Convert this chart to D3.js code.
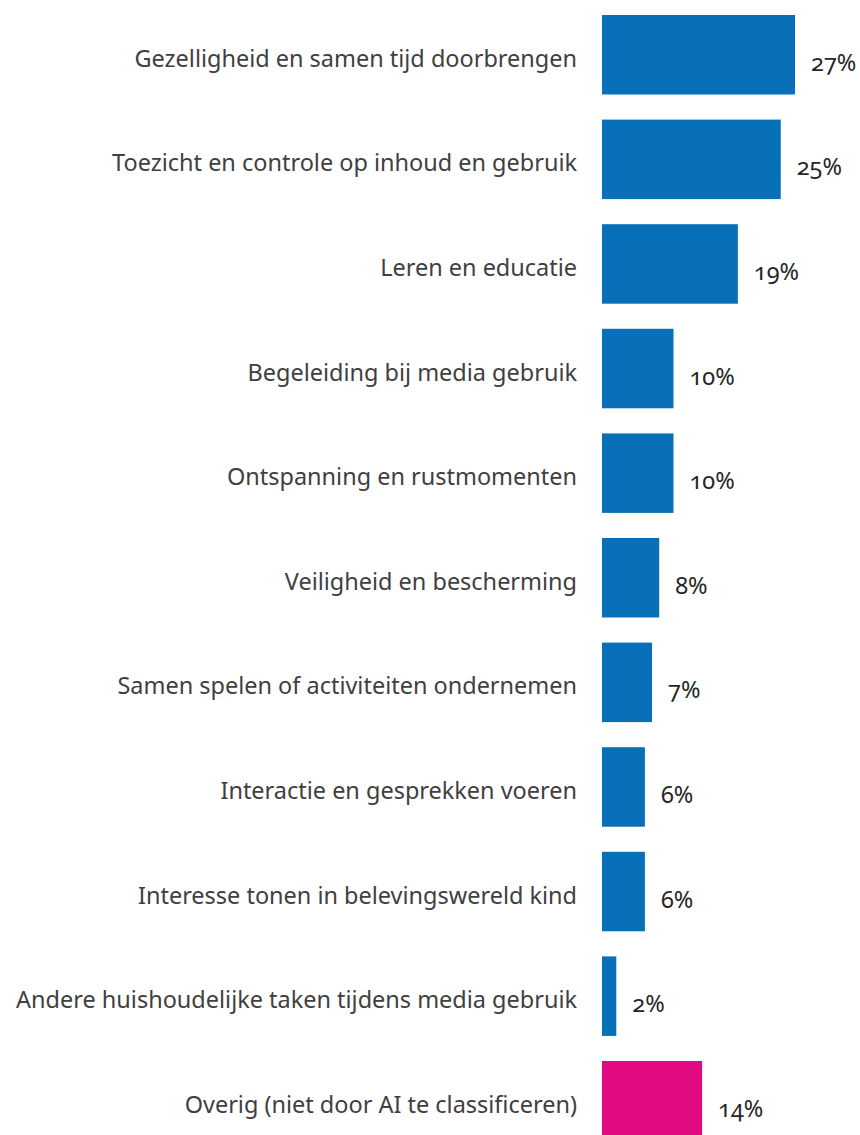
<!DOCTYPE html>
<html>
<head>
<meta charset="utf-8">
<script src="https://cdn.jsdelivr.net/npm/d3@7"></script>
<style>
  html, body { margin: 0; padding: 0; background: #ffffff; }
  svg { display: block; }
  .cat { font-family: "Noto Sans", "Open Sans", sans-serif; fill: #404040; }
  .val { font-family: "Noto Sans", "Open Sans", sans-serif; fill: #262626; font-variant-numeric: oldstyle-nums; font-feature-settings: "onum" 1; }
</style>
</head>
<body>
<svg id="chart" width="860" height="1135"></svg>
<script>
// Answers grouped by theme (share of respondents, %)
const categories = [
  "Gezelligheid en samen tijd doorbrengen",
  "Toezicht en controle op inhoud en gebruik",
  "Leren en educatie",
  "Begeleiding bij media gebruik",
  "Ontspanning en rustmomenten",
  "Veiligheid en bescherming",
  "Samen spelen of activiteiten ondernemen",
  "Interactie en gesprekken voeren",
  "Interesse tonen in belevingswereld kind",
  "Andere huishoudelijke taken tijdens media gebruik",
  "Overig (niet door AI te classificeren)"
];
const values = [27, 25, 19, 10, 10, 8, 7, 6, 6, 2, 14];
// The last row is the unclassified remainder and gets its own colour
const unclassified = ["Overig (niet door AI te classificeren)"];

const blue = "#0870b8";
const magenta = "#e20a80";

const svg = d3.select("#chart");
const width = 860, height = 1135;

const x = d3.scaleLinear().domain([0, 30]).range([602, 602 + 214.5]);
const y = d3.scaleBand()
  .domain(categories)
  .range([15, 1140.5])
  .paddingInner(0.24)
  .paddingOuter(0);

const rows = categories.map((c, i) => ({ cat: c, value: values[i] }));

svg.selectAll("rect.bar")
  .data(rows)
  .join("rect")
  .attr("class", "bar")
  .attr("x", x(0))
  .attr("y", d => y(d.cat))
  .attr("width", d => x(d.value) - x(0))
  .attr("height", y.bandwidth())
  .attr("fill", d => unclassified.includes(d.cat) ? magenta : blue);

// Category labels, right-aligned against the bars
const catLabels = svg.selectAll("text.cat")
  .data(rows)
  .join("text")
  .attr("class", "cat")
  .attr("x", 577)
  .attr("y", d => y(d.cat) + y.bandwidth() / 2 + 3)
  .attr("text-anchor", "end")
  .attr("dominant-baseline", "central")
  .style("font-size", "22px")
  .text(d => d.cat);

// Fit the longest label to the space left of the bars
let longest = 0;
catLabels.each(function () { longest = Math.max(longest, this.getComputedTextLength()); });
const fs = 22 * 561 / longest;
catLabels.style("font-size", fs + "px");

// Value labels just right of each bar end
svg.selectAll("text.val")
  .data(rows)
  .join("text")
  .attr("class", "val")
  .attr("x", d => x(d.value) + 16)
  .attr("y", d => y(d.cat) + y.bandwidth() / 2 + 7)
  .attr("dominant-baseline", "central")
  .style("font-size", fs + "px")
  .text(d => d.value + "%");
</script>
</body>
</html>
